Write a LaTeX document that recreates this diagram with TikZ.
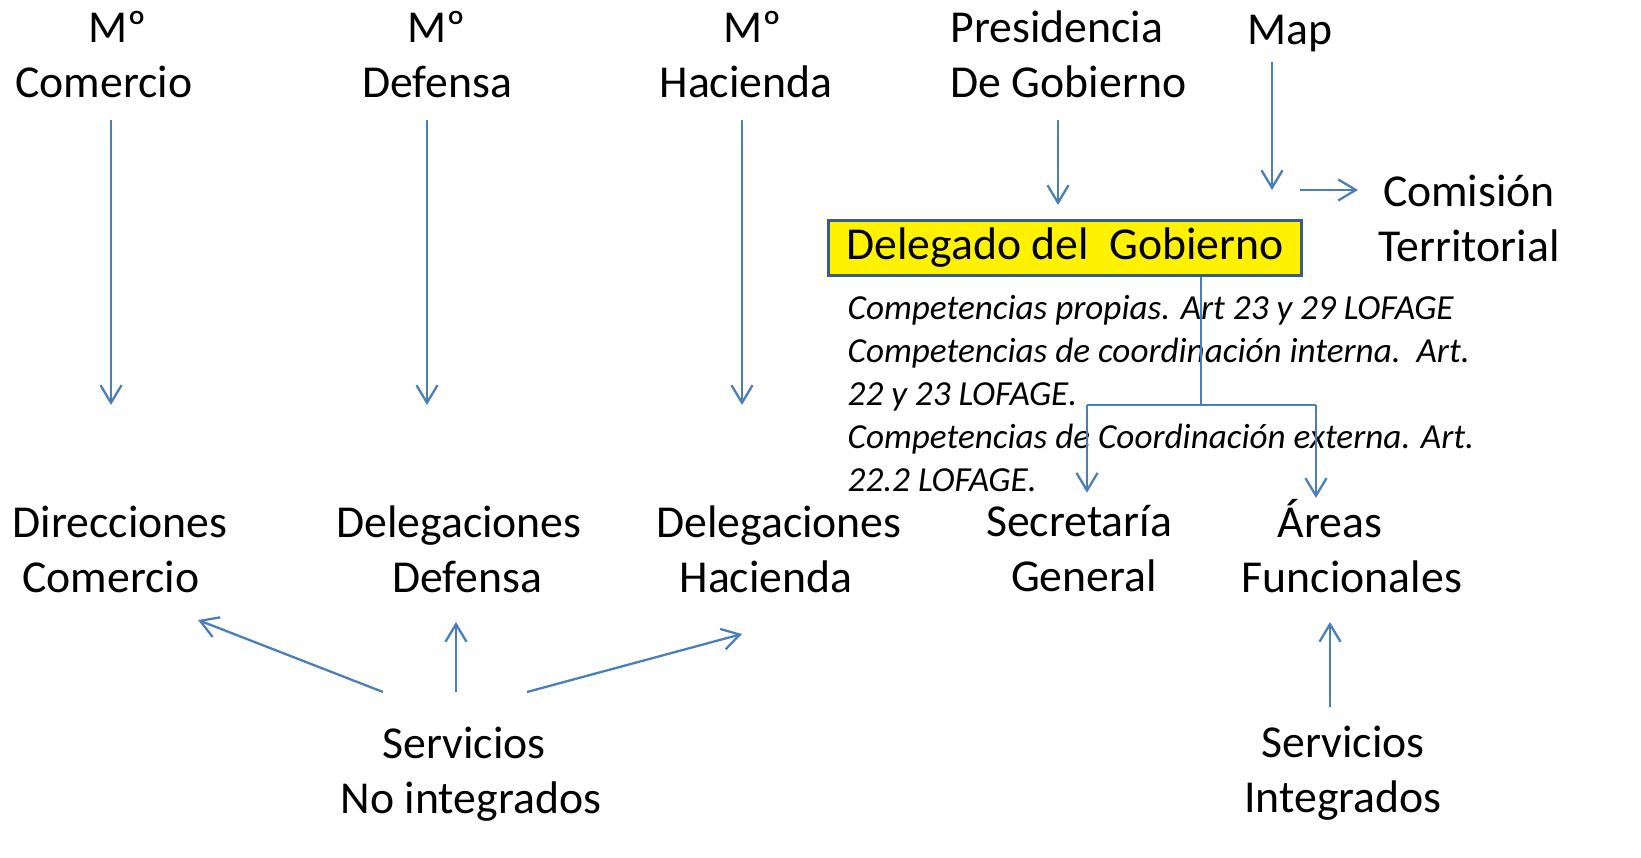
\documentclass[tikz,border=0pt]{standalone}
\usepackage{fontspec}
\setmainfont{Carlito}
\usetikzlibrary{arrows.meta}

\definecolor{flecha}{HTML}{4A7EBB}
\definecolor{borde}{HTML}{385D8A}

\tikzset{
  conn/.style={draw=flecha,line width=0.65pt,-{Straight Barb[length=5pt,width=6pt]}},
  rama/.style={draw=flecha,line width=0.65pt},
  etiq/.style={font=\fontsize{13}{15.6}\selectfont,align=center,anchor=north,inner sep=0pt,execute at begin node=\strut},
  compet/.style={font=\fontsize{10}{12.2}\selectfont\itshape,align=left,anchor=north west,inner sep=0pt,execute at begin node=\strut},
  caja/.style={draw=borde,line width=0.9pt,fill=yellow,minimum width=4.73cm,minimum height=0.55cm,inner sep=0pt,font=\fontsize{13}{15.6}\selectfont}
}

\begin{document}
\begin{tikzpicture}[x=0.01cm,y=-0.01cm]
\useasboundingbox (0,0) rectangle (1641,858);

% ministerios
\node [etiq] (mcom) at (104,11) {\hspace*{0.28cm}Mº\\Comercio};
\node [etiq] (mdef) at (437,11) {Mº\\Defensa};
\node [etiq] (mhac) at (746,11) {\hspace*{0.14cm}Mº\\Hacienda};
\node [etiq,anchor=north west,align=left] (presi) at (950,10) {Presidencia\\De Gobierno};
\node [etiq] (mapa) at (1290,5) {Map};
\node [etiq] (comision) at (1469,174) {Comisión\\Territorial};

% delegado
\node [caja] (deleg) at (1065,248) {Delegado del\ \ Gobierno};
\node [compet] (compet) at (847,295) {Competencias propias. Art 23 y 29 LOFAGE\\
  Competencias de coordinación interna.\ \ Art.\\
  22 y 23 LOFAGE.\\
  Competencias de Coordinación externa. Art.\\
  22.2 LOFAGE.};

% organos
\node [etiq] (dcom) at (120,505) {Direcciones\\Comercio\hspace*{0.18cm}};
\node [etiq] (ddef) at (459,505) {Delegaciones\\\hspace*{0.16cm}Defensa};
\node [etiq] (dhac) at (779,505) {Delegaciones\\Hacienda\hspace*{0.26cm}};
\node [etiq] (secgen) at (1079,505) {Secretaría\\\hspace*{0.1cm}General};
\node [etiq] (areas) at (1352,499) {Áreas\hspace*{0.44cm}\\Funcionales};
\node [etiq] (srvni) at (471,726) {Servicios\hspace*{0.14cm}\\No integrados};
\node [etiq] (srvi) at (1343,725) {Servicios\\Integrados};

% extremos de las flechas
\coordinate (com-a) at (111,120);  \coordinate (com-b) at (111,405);
\coordinate (def-a) at (427,120);  \coordinate (def-b) at (427,405);
\coordinate (hac-a) at (742,120);  \coordinate (hac-b) at (742,405);
\coordinate (pre-a) at (1058,120); \coordinate (pre-b) at (1058,205);
\coordinate (map-a) at (1272,62);  \coordinate (map-b) at (1272,190);
\coordinate (ct-a) at (1300,190);  \coordinate (ct-b) at (1358,190);
\coordinate (nudo) at (1201,405);
\coordinate (izq) at (1087,405);   \coordinate (der) at (1316,405);
\coordinate (ni-a) at (383,692);   \coordinate (ni-b) at (198,620);
\coordinate (ni-c) at (456,692);   \coordinate (ni-d) at (456,622);
\coordinate (ni-e) at (527,692);   \coordinate (ni-f) at (742,634);
\coordinate (si-a) at (1330,707);  \coordinate (si-b) at (1330,622);

\draw[conn] (com-a) -- (com-b);
\draw[conn] (def-a) -- (def-b);
\draw[conn] (hac-a) -- (hac-b);
\draw[conn] (pre-a) -- (pre-b);
\draw[conn] (map-a) -- (map-b);
\draw[conn] (ct-a) -- (ct-b);

\draw[rama] (deleg.south -| nudo) -- (nudo);
\draw[rama] (izq) -- (der);
\draw[conn,shorten >=3.5pt] (izq) -- (izq |- secgen.north);
\draw[conn,shorten >=2pt] (der) -- (der |- secgen.north);

\draw[conn] (ni-a) -- (ni-b);
\draw[conn] (ni-c) -- (ni-d);
\draw[conn] (ni-e) -- (ni-f);
\draw[conn] (si-a) -- (si-b);

\end{tikzpicture}
\end{document}
